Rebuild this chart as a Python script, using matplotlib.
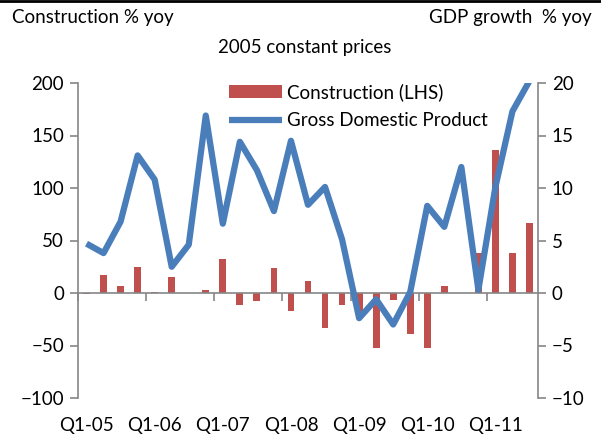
import numpy as np
import matplotlib
matplotlib.use("Agg")
import matplotlib.pyplot as plt
from matplotlib.lines import Line2D
from matplotlib.transforms import blended_transform_factory

quarters = [f"Q{q}-{y:02d}" for y in range(5, 12) for q in range(1, 5)][:27]
construction = [-1, 17, 7, 25, 1, 15, 0, 2.5, 32, -11.5, -8, 23.5, -17, 11,
                -33.5, -11.5, -22, -52.5, -6.5, -39, -52.5, 7, 0, 38.5, 136, 38, 67]
gdp = [4.7, 3.8, 6.8, 13.1, 10.8, 2.5, 4.6, 16.9, 6.6, 14.4, 11.7, 7.8, 14.5, 8.4,
       10.1, 5.1, -2.4, -0.6, -3.0, 0.1, 8.3, 6.3, 12.0, 0.3, 10.1, 17.3, 20.2]
xlabels = ["Q1-05", "Q1-06", "Q1-07", "Q1-08", "Q1-09", "Q1-10", "Q1-11"]

plt.rcParams['font.family'] = ['Lato', 'DejaVu Sans']
FS = 13.5
GREY = '#868686'
RED = '#C0504D'
BLUE = '#4A7EBB'

fig = plt.figure(figsize=(6.01, 4.41), dpi=100)
ax = fig.add_axes([78/601, 1-398/441, 460/601, 315/441])
ax2 = ax.twinx()

x = np.arange(len(quarters))
ax.bar(x, construction, width=0.4, color=RED, label='Construction (LHS)', zorder=2)
ax2.plot(x, gdp, color=BLUE, lw=4.5, solid_joinstyle='round', solid_capstyle='butt',
         label='Gross Domestic Product')

ax.set_xlim(-0.5, 26.5)
ax.set_ylim(-100, 200)
ax2.set_ylim(-10, 20)
ax.set_yticks(np.arange(-100, 201, 50))
ax2.set_yticks(np.arange(-10, 21, 5))

for a in (ax, ax2):
    a.spines['top'].set_visible(False)
    for s in a.spines.values():
        s.set_color(GREY)
        s.set_linewidth(1.2)
ax2.spines['bottom'].set_visible(False)
ax2.spines['left'].set_visible(False)
ax.spines['right'].set_visible(False)
ax.spines['bottom'].set_position(('data', 0))

ax.tick_params(axis='y', direction='out', length=6, width=1.2, color=GREY, labelsize=FS, pad=4)
ax2.tick_params(axis='y', direction='out', length=6, width=1.2, color=GREY, labelsize=FS, pad=4)
ax.set_xticks(np.arange(-0.5, 27, 4))
ax.tick_params(axis='x', direction='out', length=6, width=1.2, color=GREY, labelbottom=False)

trans = blended_transform_factory(ax.transData, fig.transFigure)
for lab in xlabels:
    i = quarters.index(lab)
    ax.text(i, 1-425/441, lab, transform=trans, ha='center', va='center', fontsize=FS)

fig.text(12/601, 1-18/441, 'Construction % yoy', ha='left', va='center', fontsize=FS)
fig.text(592/601, 1-18/441, 'GDP growth  % yoy', ha='right', va='center', fontsize=FS)
fig.text(305/601, 1-47/441, '2005 constant prices', ha='center', va='center', fontsize=FS)

fig.add_artist(Line2D([0, 1], [1-1/441, 1-1/441], transform=fig.transFigure, color='black', lw=2))

h1, l1 = ax.get_legend_handles_labels()
h2, l2 = ax2.get_legend_handles_labels()
leg = ax2.legend(h1 + h2, l1 + l2, loc='upper left', bbox_to_anchor=(216/601, 1-70/441),
                 bbox_transform=fig.transFigure, frameon=False, fontsize=FS,
                 handlelength=2.8, handletextpad=0.3, labelspacing=0.6, borderpad=0.2)

fig.savefig('out.png', dpi=100)
